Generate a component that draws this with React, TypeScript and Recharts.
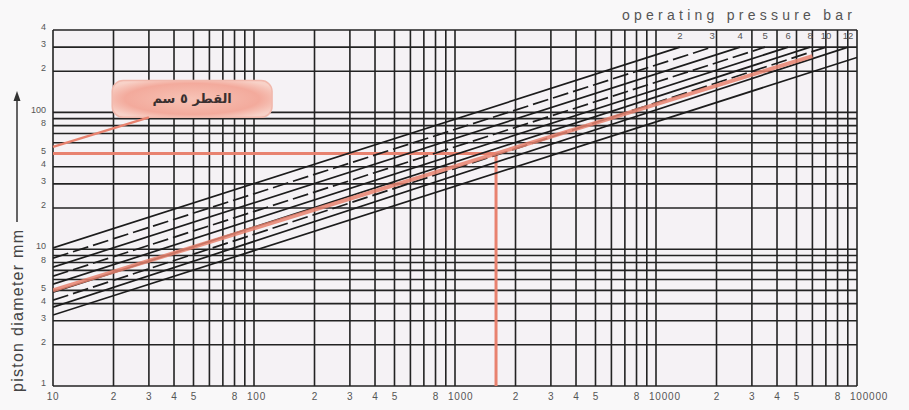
import React from 'react';
import {
  ComposedChart,
  Line,
  XAxis,
  YAxis,
  CartesianGrid,
  ReferenceLine,
  ReferenceArea,
  LabelList,
} from 'recharts';

// ---- axis grids / ticks ----
const forceGrid = [
  10, 20, 30, 40, 50, 60, 70, 80, 90,
  100, 200, 300, 400, 500, 600, 700, 800, 900,
  1000, 2000, 3000, 4000, 5000, 6000, 7000, 8000, 9000,
  10000, 20000, 30000, 40000, 50000, 60000, 70000, 80000, 90000,
  100000,
];
const diameterGrid = [
  1, 2, 3, 4, 5, 6, 7, 8, 9,
  10, 20, 30, 40, 50, 60, 70, 80, 90,
  100, 200, 300, 400,
];
const labeledDigits = [2, 3, 4, 5, 8];

// ---- pressure lines (force N -> piston diameter mm) ----
const pressureLabels = ['2', '3', '4', '5', '6', '8', '10', '12', ''];
const lineStartForce = [10, 10, 10, 10, 10, 10, 10, 10, 10];
const lineStartDiameter = [10.2, 8.6, 7.39, 6.35, 5.55, 4.85, 4.24, 3.77, 3.3];
const lineEndForce = [13150, 19000, 26200, 34900, 45400, 58400, 70100, 90200, 100000];
const lineEndDiameter = [300, 300, 300, 300, 300, 300, 300, 300, 252];
const lineDashed = [false, true, false, true, false, false, true, false, false];

// ---- worked example (red) ----
const exampleForce = [10, 1600, 60000];
const exampleDiameter = [5.0, 50, 258];
const exampleD = 50;
const exampleF = 1600;
const calloutText = 'القطر ٥ سم';

const pressureSeries = pressureLabels.map((lbl, i) => [
  { f: lineStartForce[i], d: lineStartDiameter[i], lbl: '' },
  { f: lineEndForce[i], d: lineEndDiameter[i], lbl },
]);
const redSeries = exampleForce.map((f, i) => ({ f, d: exampleDiameter[i] }));

const FONT = '"Liberation Sans", Arial, sans-serif';
const GRID = '#232323';
const RED = '#e8826f';

const leading = (v: number) => Math.round(v / Math.pow(10, Math.floor(Math.log10(v) + 1e-9)));
const isPow10 = (v: number) => leading(v) === 1;

const XTick = (props: any) => {
  const { x, y, payload } = props;
  const v = payload.value as number;
  if (isPow10(v)) {
    const big = v >= 100;
    return (
      <text x={big ? x - 7 : x} y={y} dy={9} textAnchor={big ? 'start' : 'middle'} fontSize={10} fill="#555" fontFamily={FONT} letterSpacing={0.8}>
        {String(v)}
      </text>
    );
  }
  const m = leading(v);
  if (!labeledDigits.includes(m)) return null;
  return (
    <text x={x} y={y} dy={9} textAnchor="middle" fontSize={10} fill="#555" fontFamily={FONT}>
      {String(m)}
    </text>
  );
};

const YTick = (props: any) => {
  const { x, y, payload } = props;
  const v = payload.value as number;
  let txt = '';
  if (v === 1 || v === 10 || v === 100) txt = String(v);
  else if (labeledDigits.includes(leading(v))) txt = String(leading(v));
  if (!txt) return null;
  return (
    <text x={x} y={y - 3} dy="0.35em" textAnchor="end" fontSize={9} fill="#555" fontFamily={FONT}>
      {txt}
    </text>
  );
};

const PressureLabel = (props: any) => {
  const { x, y, value } = props;
  if (!value) return null;
  return (
    <text x={x} y={y - 11} dy="0.35em" textAnchor="middle" fontSize={9.5} fill="#555" fontFamily={FONT}>
      {value}
    </text>
  );
};

const Callout = (props: any) => {
  const { x, y, width, height } = props;
  return (
    <g>
      <defs>
        <radialGradient id="callGrad" cx="50%" cy="50%" r="60%">
          <stop offset="0%" stopColor="#f7c3b6" />
          <stop offset="70%" stopColor="#f3aa9c" />
          <stop offset="100%" stopColor="#f8d2c8" />
        </radialGradient>
      </defs>
      <rect x={x} y={y} width={width} height={height} rx={11} ry={11} fill="url(#callGrad)" stroke="#f1b9ad" strokeWidth={1.5} />
      <text
        x={x + width / 2}
        y={y + height / 2}
        dy="0.35em"
        textAnchor="middle"
        fontSize={13}
        fontWeight="bold"
        fill="#3a3030"
        fontFamily='"DejaVu Sans", sans-serif'
        direction="rtl"
      >
        {calloutText}
      </text>
    </g>
  );
};

export default function App() {
  return (
    <div style={{ position: 'absolute', left: 0, top: 0, width: 909, height: 410, background: '#f9f8f9' }}>
      <ComposedChart width={909} height={410} margin={{ top: 30, right: 52, bottom: 0, left: 0 }}>
        <CartesianGrid stroke={GRID} strokeWidth={1.6} strokeDasharray="0" fill="#f5f2f5" />
        <XAxis
          dataKey="f"
          type="number"
          scale="log"
          domain={[10, 100000]}
          ticks={forceGrid}
          interval={0}
          tick={<XTick />}
          tickLine={false}
          axisLine={false}
          tickSize={0}
          tickMargin={5}
          height={24}
          allowDataOverflow
        />
        <YAxis
          dataKey="d"
          type="number"
          scale="log"
          domain={[1, 400]}
          ticks={diameterGrid}
          interval={0}
          tick={<YTick />}
          tickLine={false}
          axisLine={false}
          tickSize={0}
          tickMargin={7}
          width={53}
          allowDataOverflow
        />
        <ReferenceLine segment={[{ x: 10, y: exampleD }, { x: exampleF, y: exampleD }]} stroke={RED} strokeWidth={3} />
        <ReferenceLine segment={[{ x: exampleF, y: exampleD }, { x: exampleF, y: 1 }]} stroke={RED} strokeWidth={3} />
        {pressureSeries.map((data, i) => (
          <Line
            key={i}
            data={data}
            dataKey="d"
            type="linear"
            stroke="#1c1c1c"
            strokeWidth={1.7}
            strokeDasharray={lineDashed[i] ? '16 5' : undefined}
            dot={false}
            activeDot={false}
            isAnimationActive={false}
          >
            <LabelList dataKey="lbl" content={<PressureLabel />} />
          </Line>
        ))}
        <Line
          data={redSeries}
          dataKey="d"
          type="linear"
          stroke={RED}
          strokeOpacity={0.85}
          strokeWidth={4}
          dot={false}
          activeDot={false}
          isAnimationActive={false}
        />
        <ReferenceLine segment={[{ x: 30, y: 92 }, { x: 10, y: 56 }]} stroke={RED} strokeWidth={2.5} />
        <ReferenceArea x1={19.7} x2={123} y1={92} y2={171} shape={<Callout />} />
      </ComposedChart>
      <svg width={909} height={410} style={{ position: 'absolute', left: 0, top: 0, pointerEvents: 'none' }}>
        <text x={622} y={20} fontSize={14} fill="#555" fontFamily={FONT} textLength={230} lengthAdjust="spacing">
          operating pressure bar
        </text>
        <text
          transform="translate(23,392) rotate(-90)"
          x={0}
          y={0}
          fontSize={16}
          fill="#444"
          fontFamily={FONT}
          textLength={162}
          lengthAdjust="spacing"
        >
          piston diameter mm
        </text>
        <line x1={17} y1={222} x2={17} y2={98} stroke="#333" strokeWidth={1.5} />
        <polygon points="17,91 13.5,101 20.5,101" fill="#333" />
      </svg>
    </div>
  );
}
